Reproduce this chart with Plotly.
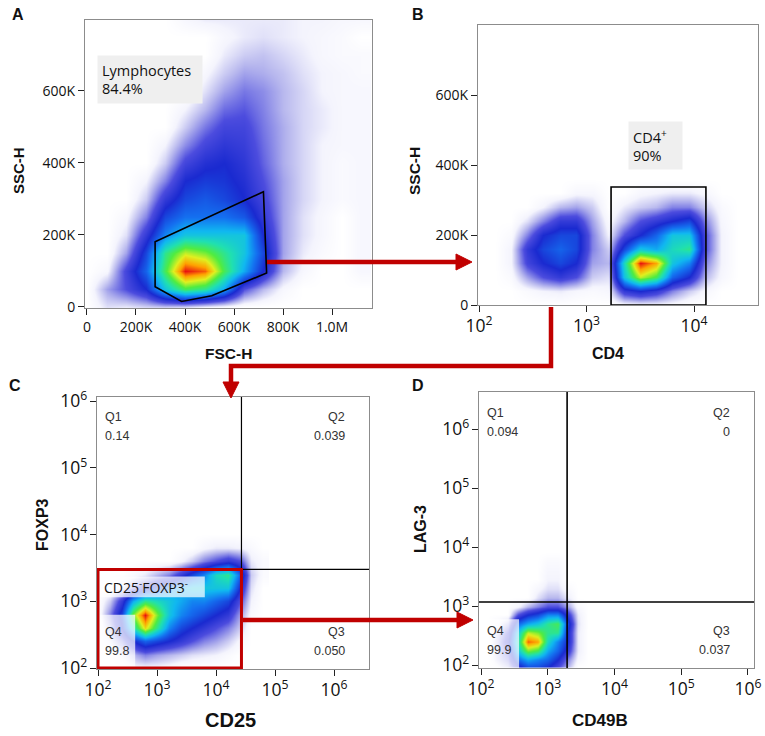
import plotly.graph_objects as go

W, H = 765, 736

# ---- panel A: FSC-H / SSC-H pseudocolor density (values in K, density level 0-10)
A_FSC = [0, 80, 160, 240, 320, 400, 480, 560, 640, 720, 800, 880, 960, 1040, 1120]
A_SSC = [0, 50, 100, 150, 200, 250, 300, 350, 400, 450, 500, 550, 600, 650, 700, 750, 800]
A_DENSITY = [
    [0, 0.6, 0.5, 0.7, 0.8, 0.7, 0.4, 0.2, 0, 0, 0, 0, 0, 0, 0],
    [0, 1.2, 2, 3, 5.5, 7, 6.5, 5, 2, 1, 0.3, 0, 0, 0, 0],
    [0, 0.3, 2.2, 4, 7, 10, 9.5, 7, 5, 3, 1, 0.3, 0, 0, 0.3],
    [0, 0, 1.2, 3.5, 6.5, 8, 7.5, 6.5, 5.5, 3.5, 1.2, 0.5, 0.2, 0, 0.3],
    [0, 0, 0.6, 2.5, 4.5, 5.5, 5.5, 5.5, 5.5, 3, 1.2, 0.6, 0.3, 0, 0.3],
    [0, 0, 0.3, 1.5, 3.5, 4.2, 4.2, 4.2, 3.8, 2.5, 1.2, 0.6, 0.3, 0, 0.3],
    [0, 0, 0, 0.8, 2.5, 3.5, 3.8, 3.5, 3, 2.2, 1.2, 0.7, 0.4, 0.2, 0.3],
    [0, 0, 0, 0.4, 1.5, 3, 3.3, 3.2, 2.8, 2, 1.2, 0.7, 0.4, 0.2, 0.3],
    [0, 0, 0, 0, 0.8, 2.2, 2.8, 3, 2.6, 1.8, 1.1, 0.7, 0.4, 0.2, 0.3],
    [0, 0, 0, 0, 0.4, 1.4, 2.2, 2.6, 2.4, 1.7, 1.1, 0.7, 0.4, 0.3, 0.3],
    [0, 0, 0, 0, 0, 0.8, 1.6, 2.2, 2.2, 1.6, 1.1, 0.7, 0.5, 0.3, 0.3],
    [0, 0, 0, 0, 0, 0.4, 1.0, 1.7, 1.9, 1.5, 1.0, 0.7, 0.5, 0.3, 0.3],
    [0, 0, 0, 0, 0, 0, 0.6, 1.2, 1.6, 1.4, 1.0, 0.7, 0.4, 0.3, 0.3],
    [0, 0, 0, 0, 0, 0, 0.3, 0.8, 1.2, 1.1, 0.9, 0.6, 0.4, 0.3, 0.2],
    [0, 0, 0, 0, 0, 0, 0, 0.5, 0.8, 0.9, 0.7, 0.5, 0.3, 0.2, 0.2],
    [0, 0, 0, 0, 0, 0, 0, 0.3, 0.5, 0.6, 0.5, 0.4, 0.3, 0.2, 0],
    [0, 0, 0, 0, 0, 0.3, 0.5, 0.5, 0.5, 0.5, 0.5, 0.4, 0.4, 0.3, 0.3],
]
A_GATE_FSC = [278, 720, 733, 509, 386, 278]
A_GATE_SSC = [181, 320, 94, 31, 15, 56]

# ---- panel B: CD4 (log10) / SSC-H (K)
B_CD4_LOG = [2.15, 2.3, 2.45, 2.6, 2.75, 2.9, 3.05, 3.2, 3.35, 3.5, 3.65, 3.8, 3.95, 4.1, 4.25, 4.4]
B_SSC = [0, 40, 80, 120, 160, 200, 240, 280, 320, 360]
B_DENSITY = [
    [0, 0, 0, 0, 0, 0, 0, 0, 0.2, 0.3, 0.3, 0.2, 0, 0, 0, 0],
    [0, 0, 0.2, 0.4, 0.5, 0.3, 0.2, 0.3, 2.5, 3, 2.5, 1.5, 0.8, 0.3, 0, 0],
    [0, 0.2, 1.2, 2, 2.5, 2, 0.8, 0.6, 5.5, 8, 7, 4, 3, 1, 0.3, 0],
    [0, 0.4, 2.2, 3, 3.5, 3, 1.2, 1, 6, 10, 9, 5.5, 4.5, 1.5, 0.4, 0],
    [0, 0.4, 2.5, 3.5, 4, 3.5, 1.5, 0.8, 3.5, 5.5, 5, 6, 6.5, 2, 0.4, 0],
    [0, 0.2, 1.5, 3, 3.5, 3.5, 1.5, 0.4, 2, 3, 4, 5.5, 5.5, 2, 0.4, 0],
    [0, 0, 0.6, 1.5, 2.5, 2.5, 1.2, 0.2, 1, 2, 2.5, 3, 3.5, 1.5, 0.3, 0],
    [0, 0, 0, 0.4, 1, 1.2, 0.8, 0, 0.5, 0.8, 1, 1.5, 1.5, 0.8, 0.2, 0],
    [0, 0, 0, 0, 0, 0.3, 0.3, 0, 0, 0.3, 0.4, 0.5, 0.5, 0.3, 0, 0],
    [0, 0, 0, 0, 0, 0, 0, 0, 0, 0, 0, 0, 0, 0, 0, 0],
]
B_GATE_CD4 = [1690, 12900]
B_GATE_SSC = [0, 337]

# ---- panel C: CD25 (log10) / FOXP3 (log10)
C_CD25_LOG = [2.0, 2.2, 2.4, 2.6, 2.8, 3.0, 3.2, 3.4, 3.6, 3.8, 4.0, 4.2, 4.4, 4.6, 4.8]
C_FOXP3_LOG = [2.0, 2.2, 2.4, 2.6, 2.8, 3.0, 3.2, 3.4, 3.6, 3.8, 4.0]
C_DENSITY = [
    [0, 0, 0, 0.3, 0.3, 0.3, 0.2, 0, 0, 0, 0, 0, 0, 0, 0],
    [0, 0, 0.5, 1, 1.5, 1.2, 1, 0.8, 0.6, 0.5, 0.4, 0.2, 0, 0, 0],
    [0, 0.5, 1.5, 3, 4, 3.5, 3, 2.5, 2, 1.5, 1.2, 0.8, 0.3, 0, 0],
    [0, 1, 3, 6, 8.5, 6.5, 4.5, 3.5, 3, 2.5, 2, 1.5, 0.8, 0, 0],
    [0, 1.5, 3.5, 7.5, 10, 7.5, 5.5, 4.5, 4, 3.5, 3, 2.5, 1.2, 0.2, 0],
    [0, 0.8, 2.5, 5, 6.5, 6, 5.5, 5, 4.5, 4.5, 4, 3.5, 2, 0.4, 0],
    [0, 0, 0.5, 1.5, 2.5, 3.5, 4.5, 5, 5.5, 5.5, 5.5, 5.5, 3, 0.6, 0],
    [0, 0, 0, 0.2, 0.5, 1, 1.5, 2.5, 3.5, 4.5, 6, 6.5, 4, 0.8, 0.2],
    [0, 0, 0, 0, 0, 0, 0, 0.3, 0.8, 1.5, 2, 2.5, 2, 0.5, 0.2],
    [0, 0, 0, 0, 0, 0, 0, 0, 0, 0.3, 0.5, 0.5, 0.4, 0.2, 0],
    [0, 0, 0, 0, 0, 0, 0, 0, 0, 0, 0, 0, 0, 0, 0],
]
C_SPLIT_CD25 = 27000
C_SPLIT_FOXP3 = 3000
C_QUADS = [("Q1", "0.14"), ("Q2", "0.039"), ("Q3", "0.050"), ("Q4", "99.8")]

# ---- panel D: CD49B (log10) / LAG-3 (log10)
D_CD49B_LOG = [2.1, 2.25, 2.4, 2.55, 2.7, 2.85, 3.0, 3.15, 3.3, 3.45, 3.6]
D_LAG3_LOG = [1.95, 2.1, 2.25, 2.4, 2.55, 2.7, 2.85, 3.0, 3.15, 3.3, 3.45, 3.6, 3.75, 3.9]
D_DENSITY = [
    [0, 0.3, 0.8, 2.5, 3.5, 3.5, 3, 2, 1, 0, 0],
    [0, 0.8, 1.5, 4, 5, 4.5, 4, 3, 1.5, 0.3, 0],
    [0, 1, 2, 5.5, 7.5, 7, 5, 4, 2.5, 0.5, 0],
    [0, 1, 2.5, 6, 9.5, 9, 6, 4.5, 3, 0.5, 0],
    [0, 0.8, 2, 5.5, 8, 7.5, 6.5, 6.5, 3, 0.5, 0],
    [0, 0.3, 1, 4, 5, 5.5, 6.5, 7, 3.5, 0.6, 0],
    [0, 0, 0, 2, 3, 3.5, 4.5, 4.5, 2.5, 0.5, 0],
    [0, 0, 0, 0.3, 1, 1.5, 2, 2, 1.2, 0.2, 0],
    [0, 0, 0, 0, 0, 0.6, 1, 1, 0.5, 0, 0],
    [0, 0, 0, 0, 0, 0.3, 0.6, 0.6, 0.2, 0, 0],
    [0, 0, 0, 0, 0, 0, 0.4, 0.4, 0, 0, 0],
    [0, 0, 0, 0, 0, 0, 0.3, 0.3, 0, 0, 0],
    [0, 0, 0, 0, 0, 0, 0.2, 0.2, 0, 0, 0],
    [0, 0, 0, 0, 0, 0, 0, 0, 0, 0, 0],
]
D_SPLIT_CD49B = 1950
D_SPLIT_LAG3 = 1170
D_QUADS = [("Q1", "0.094"), ("Q2", "0"), ("Q3", "0.037"), ("Q4", "99.9")]

RED = "#c00000"
TICKFONT = dict(family="Open Sans, Arial", size=14, color="#111")
JET = [
    [0.0, "#ffffff"], [0.04, "#f4f4fd"], [0.1, "#b8b8ee"], [0.2, "#4c4cde"],
    [0.3, "#1a2ad0"], [0.42, "#1470f0"], [0.52, "#10b8f0"], [0.62, "#20e0b0"],
    [0.72, "#50ec40"], [0.82, "#e0f020"], [0.91, "#ffa000"], [1.0, "#e81010"],
]


def fx(p):
    return p / W


def fy(p):
    return 1 - p / H


def density(x, y, z, n):
    return go.Heatmap(x=x, y=y, z=z, xaxis="x" + n, yaxis="y" + n, zmin=0, zmax=10,
                      zsmooth="best", colorscale=JET, showscale=False, hoverinfo="skip")


fig = go.Figure()
fig.add_trace(density([v * 1000 for v in A_FSC], [v * 1000 for v in A_SSC], A_DENSITY, ""))
fig.add_trace(density([10 ** v for v in B_CD4_LOG], [v * 1000 for v in B_SSC], B_DENSITY, "2"))
fig.add_trace(density([10 ** v for v in C_CD25_LOG], [10 ** v for v in C_FOXP3_LOG], C_DENSITY, "3"))
fig.add_trace(density([10 ** v for v in D_CD49B_LOG], [10 ** v for v in D_LAG3_LOG], D_DENSITY, "4"))

common = dict(showgrid=False, zeroline=False, showline=True, linecolor="#8c8c8c", linewidth=1,
              mirror=True, ticks="outside", ticklen=6, tickwidth=1.3, tickcolor="#222",
              tickfont=TICKFONT, automargin=False)
k_ticks = dict(tickvals=[0, 200000, 400000, 600000, 800000, 1000000],
               ticktext=["0", "200K", "400K", "600K", "800K", "1.0M"])
ssc_ticks = dict(tickvals=[0, 200000, 400000, 600000], ticktext=["0", "200K", "400K", "600K"])
log_ticks = dict(type="log", dtick=1, exponentformat="power")

# minor tick positions (drawn on tick-only overlay axes)
lin_minor = list(range(0, 1150001, 50000))
log_minor = [m * 10 ** e for e in range(1, 7) for m in range(2, 10)]


def dom(a, b, size):
    return [a / size, b / size]


axes = {
    "xaxis": dict(domain=dom(85, 372, W), range=[-8000, 1163000], anchor="y", **k_ticks),
    "yaxis": dict(domain=[1 - 308 / H, 1 - 20 / H], range=[-3000, 797000], anchor="x", **ssc_ticks),
    "xaxis2": dict(domain=dom(478, 758, W), range=[1.99, 4.595], anchor="y2", **log_ticks),
    "yaxis2": dict(domain=[1 - 305 / H, 1 - 25 / H], range=[0, 800000], anchor="x2", **ssc_ticks),
    "xaxis3": dict(domain=dom(97, 369, W), range=[1.983, 6.593], anchor="y3", **log_ticks),
    "yaxis3": dict(domain=[1 - 669 / H, 1 - 397 / H], range=[1.985, 6.06], anchor="x3", **log_ticks),
    "xaxis4": dict(domain=dom(479, 754, W), range=[1.97, 6.09], anchor="y4", **log_ticks),
    "yaxis4": dict(domain=[1 - 668 / H, 1 - 392 / H], range=[1.95, 6.63], anchor="x4", **log_ticks),
}
layout_axes = {}
for name, ax in axes.items():
    layout_axes[name] = dict(ax, **common)
    base = ("x" if name.startswith("x") else "y") + name[5:]
    other = ("y" if name.startswith("x") else "x") + name[5:]
    is_log = ax.get("type") == "log"
    layout_axes[name[:5] + str(int(name[5:] or 1) + 4)] = dict(
        overlaying=base, anchor=other, range=ax["range"], type=ax.get("type", "linear"),
        tickmode="array", tickvals=log_minor if is_log else lin_minor,
        ticks="outside", ticklen=3, tickwidth=1, tickcolor="#333", showticklabels=False,
        showline=False, showgrid=False, zeroline=False, automargin=False,
        side="bottom" if name.startswith("x") else "left")

fig.update_layout(
    width=W, height=H, margin=dict(l=0, r=0, t=0, b=0, autoexpand=False),
    paper_bgcolor="white", plot_bgcolor="white", showlegend=False, **layout_axes,
)

shapes = []
# gates
gate_a = "M " + " L ".join(f"{x * 1000},{y * 1000}" for x, y in zip(A_GATE_FSC, A_GATE_SSC)) + " Z"
shapes.append(dict(type="path", xref="x", yref="y", path=gate_a, line=dict(color="black", width=1.6)))
shapes.append(dict(type="rect", xref="x2", yref="y2", x0=B_GATE_CD4[0], x1=B_GATE_CD4[1],
                   y0=B_GATE_SSC[0] * 1000, y1=B_GATE_SSC[1] * 1000, line=dict(color="black", width=1.6)))

# translucent label boxes on C and D
wash = "rgba(255,255,255,0.72)"
shapes.append(dict(type="rect", xref="x3", yref="y3", x0=96, x1=6460, y0=1150, y1=2340,
                   fillcolor=wash, line=dict(width=0), layer="above"))
shapes.append(dict(type="rect", xref="x3", yref="y3", x0=96, x1=427, y0=100, y1=630,
                   fillcolor=wash, line=dict(width=0), layer="above"))
shapes.append(dict(type="rect", xref="x4", yref="y4", x0=93, x1=372, y0=89, y1=600,
                   fillcolor=wash, line=dict(width=0), layer="above"))

# quadrant lines
for n, xs, ys, w in [("3", C_SPLIT_CD25, C_SPLIT_FOXP3, 1.2), ("4", D_SPLIT_CD49B, D_SPLIT_LAG3, 1.6)]:
    shapes.append(dict(type="line", xref="x" + n, yref="y" + n + " domain", x0=xs, x1=xs, y0=0, y1=1,
                       line=dict(color="black", width=w)))
    shapes.append(dict(type="line", xref="x" + n + " domain", yref="y" + n, x0=0, x1=1, y0=ys, y1=ys,
                       line=dict(color="black", width=w)))

# red CD25-FOXP3- gate
shapes.append(dict(type="rect", xref="x3", yref="y3", x0=100, x1=C_SPLIT_CD25, y0=100, y1=C_SPLIT_FOXP3,
                   line=dict(color=RED, width=3)))


def ppath(points, close=False):
    s = "M " + " L ".join(f"{fx(x):.5f},{fy(y):.5f}" for x, y in points)
    return s + (" Z" if close else "")


arrows = [
    [(267, 262), (457, 262)],
    [(551, 307), (551, 366), (231, 366), (231, 383)],
    [(243, 620), (458, 620)],
]
heads = [
    [(456, 254), (472, 262), (456, 270)],
    [(223, 382), (231, 398), (239, 382)],
    [(457, 612), (473, 620), (457, 628)],
]
for a in arrows:
    shapes.append(dict(type="path", xref="paper", yref="paper", path=ppath(a),
                       line=dict(color=RED, width=4.5)))
for h in heads:
    shapes.append(dict(type="path", xref="paper", yref="paper", path=ppath(h, True),
                       fillcolor=RED, line=dict(color=RED, width=1)))
fig.update_layout(shapes=shapes)

ann = []
title_font = dict(family="Liberation Sans, Arial", color="#111")


def text(x, y, s, size, xanchor="center", yanchor="middle", angle=0, font=None, **kw):
    f = dict(font or dict(family="Liberation Sans, Arial", color="#222"))
    f["size"] = size
    ann.append(dict(x=fx(x), y=fy(y), xref="paper", yref="paper", text=s, showarrow=False,
                    xanchor=xanchor, yanchor=yanchor, textangle=angle, font=f, **kw))


# panel letters
for letter, x, y in [("A", 18, 15), ("B", 418, 14), ("C", 15, 385), ("D", 418, 385)]:
    text(x, y, "<b>" + letter + "</b>", 16, font=title_font)

# axis titles
text(18, 171, "<b>SSC-H</b>", 15, angle=-90, font=title_font)
text(228, 353, "<b>FSC-H</b>", 15.5, font=title_font)
text(414, 171, "<b>SSC-H</b>", 15.5, angle=-90, font=title_font)
text(608, 353, "<b>CD4</b>", 16, font=title_font)
text(42, 525, "<b>FOXP3</b>", 16, angle=-90, font=title_font)
text(230, 720, "<b>CD25</b>", 20, font=title_font)
text(420, 529, "<b>LAG-3</b>", 16, angle=-90, font=title_font)
text(600, 720, "<b>CD49B</b>", 17, font=title_font)

# gate labels
label_font = dict(family="Open Sans, Arial", color="#111")
text(97, 55, "Lymphocytes<br>84.4%", 14.5, xanchor="left", yanchor="top", font=label_font,
     align="left", bgcolor="#efefef", borderpad=4, width=96, height=39, valign="middle")
text(628, 121, "CD4<sup>+</sup><br>90%", 14.5, xanchor="left", yanchor="top", font=label_font,
     align="left", bgcolor="#efefef", borderpad=4, width=45, height=39, valign="middle")
text(102, 587, "CD25<sup>-</sup>FOXP3<sup>-</sup>", 14, xanchor="left", font=label_font)

# quadrant statistics
quad_font = dict(family="Liberation Sans, Arial", color="#333")
for quads, left, right, top, bottom in [(C_QUADS, 103, 347, 417, 632), (D_QUADS, 485, 732, 413, 631)]:
    for (name, val), (x, y, anchor) in zip(quads, [(left, top, "left"), (right, top, "right"),
                                                   (right, bottom, "right"), (left, bottom, "left")]):
        text(x, y, name, 12.5, xanchor=anchor, font=quad_font)
        text(x, y + 19, val, 12.5, xanchor=anchor, font=quad_font)

fig.update_layout(annotations=ann)
# the page's default body margin would push the figure 8px off the window
fig.write_html("out.html", config={"displayModeBar": False},
               post_script="document.body.style.margin='0';")
